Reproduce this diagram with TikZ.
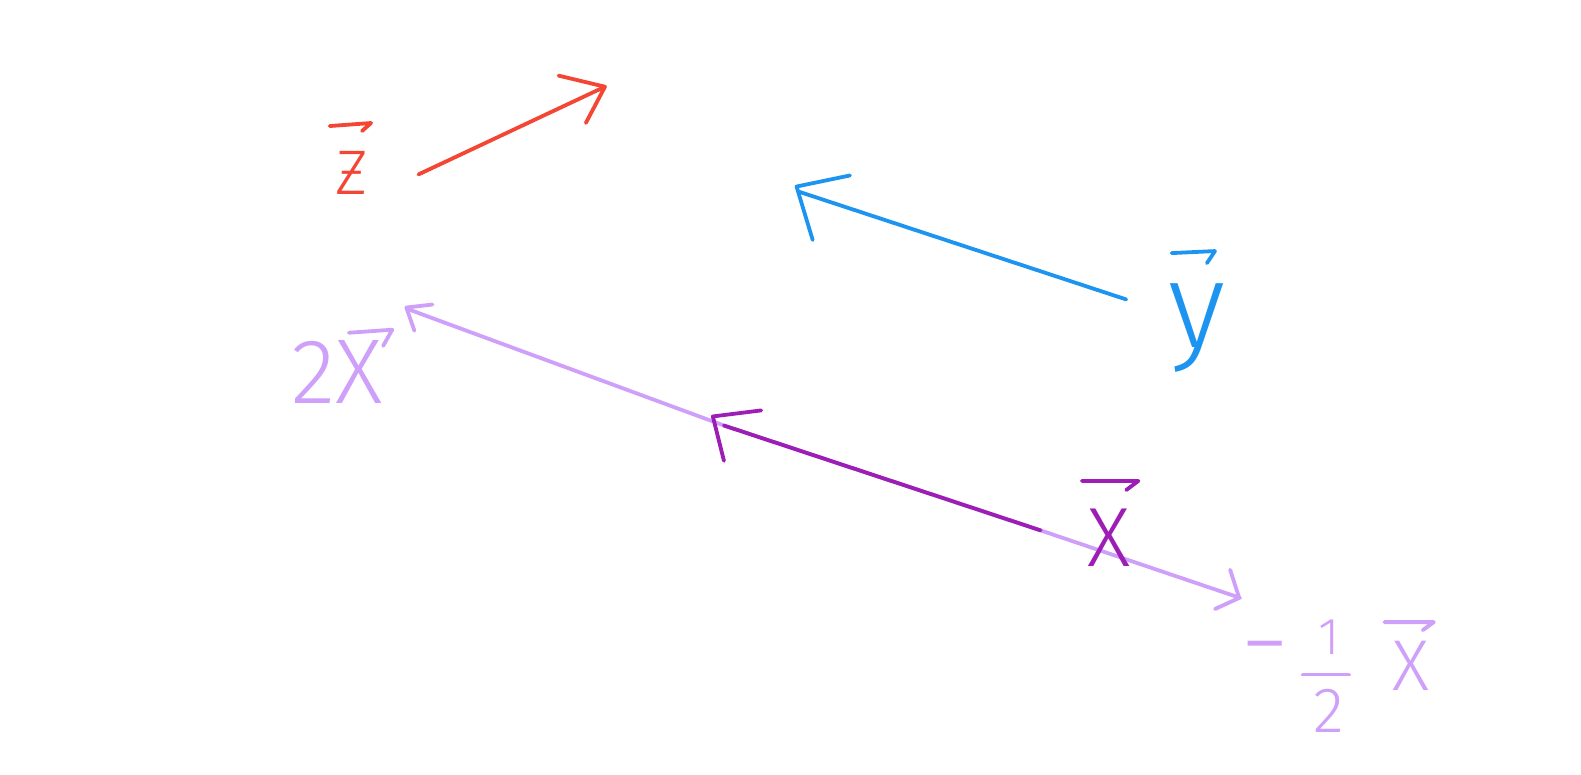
\documentclass[tikz,border=0pt]{standalone}
\usepackage{fontspec}
\newfontfamily\hand{Fira Sans}[UprightFont=* Light]
\definecolor{zred}{RGB}{244,70,52}
\definecolor{yblue}{RGB}{28,148,240}
\definecolor{xdark}{RGB}{156,30,180}
\definecolor{xlight}{RGB}{206,160,250}
\begin{document}
\begin{tikzpicture}[x=0.5042pt,y=-0.5042pt,
  stroke/.style={line width=1.9pt,line cap=round,line join=round},
  lbl/.style={inner sep=0pt,font=\hand}]
\useasboundingbox (0,0) rectangle (1568,768);
% ---------- z ----------
\coordinate (zt) at (415,173);
\coordinate (zh) at (600,86);
\draw[stroke,zred] (zt) -- (zh);
\draw[stroke,zred] (554,75) -- (zh) -- (581,122);
\node[lbl,zred,font=\hand\fontsize{31.5}{36}\selectfont] (zl) at (349,171) {Ƶ};
\draw[stroke,zred] (327,125) -- (368,122) -- (359,130);
% ---------- y ----------
\coordinate (yt) at (1117,297);
\coordinate (yh) at (792,190);
\draw[stroke,yblue] (yt) -- (yh);
\draw[stroke,yblue] (843,174) -- (790,185) -- (806,238);
\node[lbl,yblue,font=\hand\fontsize{61}{66}\selectfont] (yl) at (1187,325) {y};
\draw[stroke,yblue] (1162,251) -- (1205,249) -- (1197,261);
% ---------- 2x ----------
\coordinate (o) at (1032,526);
\coordinate (xh) at (718,422);
\coordinate (x2h) at (403,306);
\draw[stroke,xlight] (o) -- (xh) -- (x2h);
\draw[stroke,xlight] (429,302) -- (403,305) -- (411,328);
\node[lbl,xlight,font=\hand\fontsize{46}{50}\selectfont] (x2l) at (334,369) {2X};
\draw[stroke,xlight] (346,330) -- (389,327) -- (380,343);
% ---------- -1/2 x ----------
\coordinate (xmh) at (1230,593);
\draw[stroke,xlight] (o) -- (xmh);
\draw[stroke,xlight] (1220,565) -- (1229,593) -- (1205,604);
\node[lbl,xlight,font=\hand\fontsize{48}{52}\selectfont] (mn) at (1255,653) {−};
\node[lbl,xlight,font=\hand\fontsize{26}{30}\selectfont] (one) at (1318,632) {1};
\draw[stroke,xlight] (1292,669) -- (1338,669);
\node[lbl,xlight,font=\hand\fontsize{32}{36}\selectfont] (two) at (1318,705) {2};
\node[lbl,xlight,font=\hand\fontsize{36}{40}\selectfont] (xml) at (1399,660) {X};
\draw[stroke,xlight] (1373,617) -- (1422,617) -- (1411,625);
% ---------- x ----------
\draw[stroke,xdark] (xh) -- (o);
\draw[stroke,xdark] (755,407) -- (707,413) -- (718,457);
\node[lbl,xdark,font=\hand\fontsize{42}{48}\selectfont] (xl) at (1100,533) {X};
\draw[stroke,xdark] (1073,477) -- (1129,477) -- (1117,486);
\end{tikzpicture}
\end{document}
